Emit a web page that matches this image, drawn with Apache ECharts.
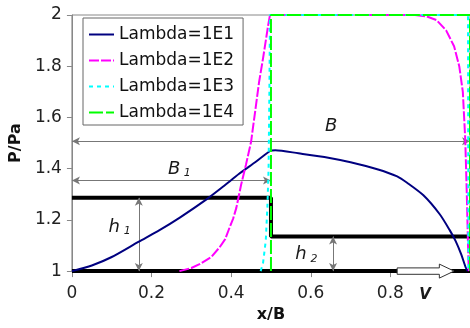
<!DOCTYPE html>
<html><head><meta charset="utf-8">
<script src="https://cdn.jsdelivr.net/npm/echarts@6/dist/echarts.min.js"></script>
<style>html,body{margin:0;padding:0;background:#fff}#c{width:470px;height:328px}</style>
</head><body><div id="c"></div>
<script>
const seriesNames = ['Lambda=1E1', 'Lambda=1E2', 'Lambda=1E3', 'Lambda=1E4'];
const lambda1E1 = [[0,1.0],[0.05,1.022],[0.1,1.055],[0.168,1.115],[0.22,1.16],[0.272,1.21],[0.338,1.28],[0.38,1.33],[0.42,1.38],[0.462,1.427],[0.497,1.468],[0.511,1.472],[0.569,1.46],[0.644,1.443],[0.70,1.425],[0.767,1.398],[0.817,1.37],[0.842,1.345],[0.883,1.296],[0.924,1.222],[0.949,1.16],[0.964,1.117],[0.978,1.065],[0.989,1.015],[0.994,1.0]];
const lambda1E2 = [[0.27,1.0],[0.3,1.012],[0.322,1.028],[0.35,1.055],[0.371,1.093],[0.385,1.125],[0.396,1.17],[0.405,1.205],[0.413,1.247],[0.425,1.337],[0.437,1.414],[0.45,1.505],[0.46,1.62],[0.47,1.737],[0.48,1.83],[0.487,1.9],[0.493,1.96],[0.4975,2.0],[0.86,2.0],[0.89,1.995],[0.916,1.98],[0.94,1.94],[0.96,1.878],[0.973,1.8],[0.982,1.7],[0.988,1.517],[0.992,1.3],[0.995,1.1],[0.997,1.0]];
const lambda1E3 = [[0.474,1.0],[0.48,1.03],[0.487,1.12],[0.491,1.25],[0.494,1.4],[0.496,1.7],[0.4975,2.0],[0.995,2.0],[0.996,1.0]];
const lambda1E4 = [[0.5,1.0],[0.5,2.0],[1.0,2.0],[1.0,1.0]];
const stepProfile = [[0,1.286],[0.5,1.286],[0.5,1.135],[1,1.135]];
const baseLine = [[0,1],[1,1]];
const dimLines = [[[0,1.507],[1,1.507]], [[0,1.354],[0.5,1.354]], [[0.168,1],[0.168,1.286]], [[0.656,1.135],[0.656,1]]];
const labelTexts = ['B', 'B', 'h', 'h', 'V'];
const labelSubs = ['', '1', '1', '2', ''];
const labelPos = [[0.651,1.564],[0.257,1.398],[0.106,1.172],[0.5755,1.064],[0.887,0.907]];
const velocityArrow = [[0.817, 0.923, 0.96, 1]];

const FONT = 'DejaVu Sans';
const chart = echarts.init(document.getElementById('c'), null, {renderer: 'canvas'});

const curveColors = ['#000080', '#ff00ff', '#00ffff', '#00ff00'];
const curveDash = ['solid', [10, 2], [4, 4], [14, 3]];
const curveData = [lambda1E1, lambda1E2, lambda1E3, lambda1E4];
const curveSmooth = [0.25, false, false, false];

const curves = curveData.map((d, i) => ({
  name: seriesNames[i], type: 'line', data: d, symbol: 'none', z: 5 + i,
  smooth: curveSmooth[i],
  lineStyle: {color: curveColors[i], width: 2, type: curveDash[i]},
  itemStyle: {color: curveColors[i]}, animation: false, silent: true
}));

const option = {
  animation: false,
  backgroundColor: '#fff',
  grid: {left: 70, top: 15, width: 404, height: 259, show: true, borderColor: '#888', borderWidth: 1},
  legend: {
    data: seriesNames, orient: 'vertical', left: 83, top: 18,
    itemWidth: 25, itemHeight: 12, itemGap: 9,
    padding: [8, 9, 4, 5], borderColor: '#666', borderWidth: 1, backgroundColor: '#fff',
    itemStyle: {opacity: 0},
    textStyle: {fontFamily: FONT, fontSize: 17, color: '#111'}
  },
  xAxis: {
    type: 'value', min: 0, max: 1, interval: 0.2,
    name: 'x/B', nameLocation: 'middle', nameGap: 32,
    nameTextStyle: {fontFamily: FONT, fontSize: 16, fontWeight: 'bold', color: '#111'},
    axisLine: {lineStyle: {color: '#888', width: 1}},
    axisTick: {inside: false, length: 6, lineStyle: {color: '#888'}},
    axisLabel: {fontFamily: FONT, fontSize: 17, color: '#222', margin: 14, showMaxLabel: false},
    splitLine: {show: false}
  },
  yAxis: {
    type: 'value', min: 1, max: 2, interval: 0.2,
    name: 'P/Pa', nameLocation: 'middle', nameGap: 43, nameRotate: 90,
    nameTextStyle: {fontFamily: FONT, fontSize: 16, fontWeight: 'bold', color: '#111'},
    axisLine: {show: true, lineStyle: {color: '#888', width: 1}},
    axisTick: {show: true, inside: false, length: 5, lineStyle: {color: '#888'}},
    axisLabel: {fontFamily: FONT, fontSize: 17, color: '#222', margin: 10},
    splitLine: {show: false}
  },
  series: [
    {
      type: 'line', data: baseLine, symbol: 'none', z: 2, silent: true,
      lineStyle: {color: '#000', width: 4},
      markLine: {
        silent: true, symbol: ['arrow', 'arrow'], symbolSize: [6, 8], animation: false,
        label: {show: false},
        lineStyle: {color: '#777', width: 1, type: 'solid'},
        data: dimLines.map(l => [{coord: l[0]}, {coord: l[1]}])
      }
    },
    {
      type: 'line', data: stepProfile, symbol: 'none', z: 2, silent: true,
      lineStyle: {color: '#000', width: 4}
    },
    ...curves,
    {
      type: 'custom', data: velocityArrow, z: 12, silent: true, clip: false,
      renderItem: function (params, api) {
        const y = api.value(3);
        const a = api.coord([api.value(0), y]);
        const b = api.coord([api.value(1), y]);
        const t = api.coord([api.value(2), y]);
        const bh = 3.2, hh = 7;
        return {
          type: 'polygon',
          shape: {points: [[a[0], a[1] - bh], [b[0], b[1] - bh], [b[0], b[1] - hh], [t[0], t[1]], [b[0], b[1] + hh], [b[0], b[1] + bh], [a[0], a[1] + bh]]},
          style: {fill: '#fff', stroke: '#333', lineWidth: 1}
        };
      }
    },
    {
      type: 'custom', data: labelPos, z: 13, silent: true, clip: false,
      renderItem: function (params, api) {
        const i = params.dataIndex;
        const p = api.coord([api.value(0), api.value(1)]);
        const isV = labelTexts[i] === 'V';
        const children = [{
          type: 'text', x: p[0], y: p[1],
          style: {text: labelTexts[i], fill: '#1a1a1a', align: 'center', verticalAlign: 'middle',
            font: (isV ? 'italic bold 15px ' : 'italic 18px ') + FONT}
        }];
        if (labelSubs[i]) {
          children.push({
            type: 'text', x: p[0] + 13, y: p[1] + 4,
            style: {text: labelSubs[i], fill: '#1a1a1a', align: 'center', verticalAlign: 'middle',
              font: 'italic 11px ' + FONT}
          });
        }
        return {type: 'group', children: children};
      }
    }
  ]
};
chart.setOption(option);
</script>
</body></html>
